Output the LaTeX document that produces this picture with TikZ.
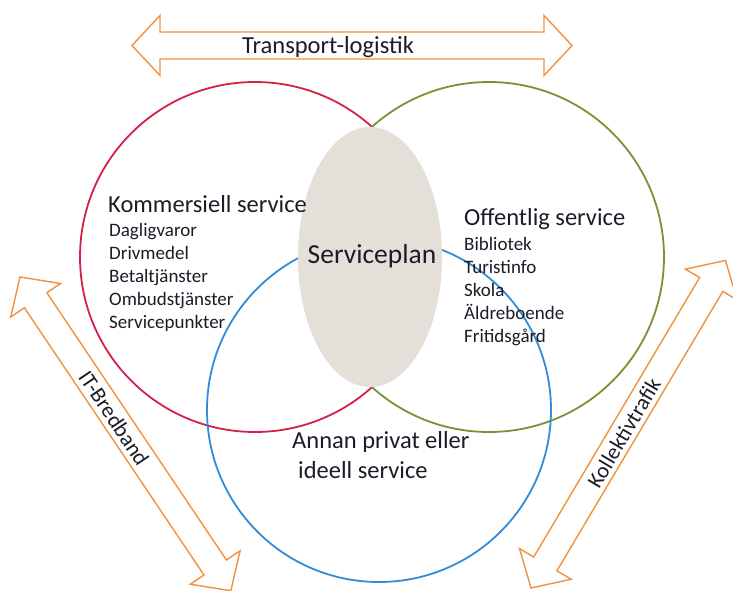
\documentclass[tikz,border=0pt]{standalone}
\usepackage{fontspec}
\setmainfont{Carlito}
\usetikzlibrary{shapes.geometric}
\definecolor{cred}{RGB}{214,32,70}
\definecolor{cgreen}{RGB}{118,148,52}
\definecolor{cblue}{RGB}{52,140,214}
\definecolor{corange}{RGB}{240,146,62}
\definecolor{cgray}{RGB}{228,224,217}
\definecolor{ctext}{RGB}{28,28,40}
\tikzset{
  ring/.style={line width=1.8pt},
  bigarrow/.style={draw=corange, fill=white, line width=1.4pt, line join=miter},
  head/.style={font=\fontsize{24.5}{28}\selectfont, text=ctext, inner sep=0pt, anchor=base west},
  item/.style={font=\fontsize{19}{23}\selectfont, text=ctext, inner sep=0pt, anchor=base west},
  arrowlabel/.style={font=\fontsize{22}{26}\selectfont, text=ctext, inner sep=0pt},
}
\newcommand{\dblarrow}[1]{%
  \draw[bigarrow] (0,0) -- (28,30) -- (28,13.5) -- (#1-28,13.5) -- (#1-28,30) -- (#1,0)
    -- (#1-28,-30) -- (#1-28,-13.5) -- (28,-13.5) -- (28,-30) -- cycle;}
\begin{document}
\begin{tikzpicture}[x=1pt,y=-1pt]
\useasboundingbox (0,0) rectangle (733,590);
\fill[white] (0,0) rectangle (733,590);

% circles
\draw[ring, cred] (255,257) circle[radius=175pt];
\draw[ring, cgreen] (489,257) circle[radius=175pt];
\draw[ring, cblue] (379,410) circle[radius=172pt];

% central ellipse
\node[ellipse, fill=cgray, minimum width=144pt, minimum height=260pt, inner sep=0pt] (sp) at (370,257) {};
\node[font=\fontsize{27.5}{30}\selectfont, text=ctext, inner sep=0pt, anchor=base] (sptext) at (372,263) {Serviceplan};

% top arrow
\begin{scope}[shift={(132,45.5)}]
  \dblarrow{440}
\end{scope}
\node[head] (tl) at (242,53) {Transport-logistik};

% left arrow
\begin{scope}[shift={(20,277)}, rotate=-56.1]
  \dblarrow{378}
\end{scope}
\node[arrowlabel, rotate=-56.1] (it) at (114,418) {IT-Bredband};

% right arrow
\begin{scope}[shift={(531,588)}, rotate=59.3]
  \dblarrow{381}
\end{scope}
\node[arrowlabel, rotate=59.3] (kt) at (624,433) {Kollektivtrafik};

% left circle text
\node[head] (kom) at (108,212) {Kommersiell service};
\node[item] (k1) at (109,236) {Dagligvaror};
\node[item] (k2) at (109,259) {Drivmedel};
\node[item] (k3) at (109,282) {Betaltjänster};
\node[item] (k4) at (109,305) {Ombudstjänster};
\node[item] (k5) at (109,328) {Servicepunkter};

% right circle text
\node[head] (off) at (464,225) {Offentlig service};
\node[item] (o1) at (464,250) {Bibliotek};
\node[item] (o2) at (464,273) {Turistinfo};
\node[item] (o3) at (464,296) {Skola};
\node[item] (o4) at (464,319) {Äldreboende};
\node[item] (o5) at (464,342) {Fritidsgård};

% bottom circle text
\node[head] (an1) at (292,448) {Annan privat eller};
\node[head] (an2) at (298,478) {ideell service};
\end{tikzpicture}
\end{document}
